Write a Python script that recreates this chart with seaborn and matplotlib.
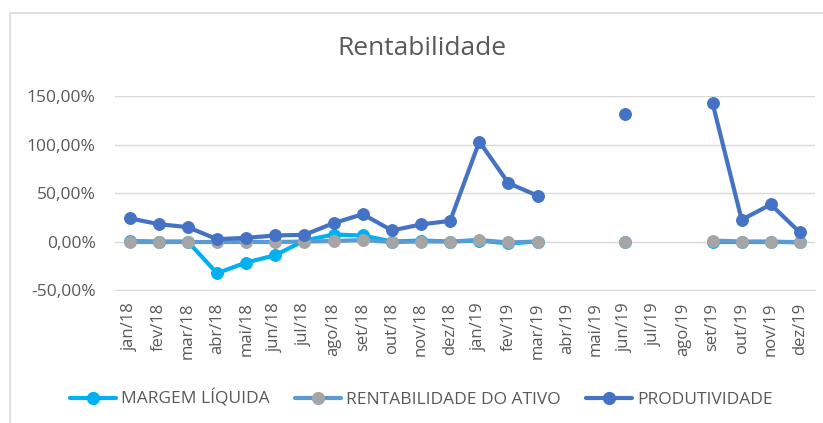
import numpy as np
import pandas as pd
import seaborn as sns
import matplotlib.pyplot as plt
from matplotlib.patches import Rectangle
from matplotlib.ticker import FuncFormatter

# months on the x axis
meses = ["jan/18", "fev/18", "mar/18", "abr/18", "mai/18", "jun/18", "jul/18", "ago/18",
         "set/18", "out/18", "nov/18", "dez/18", "jan/19", "fev/19", "mar/19", "abr/19",
         "mai/19", "jun/19", "jul/19", "ago/19", "set/19", "out/19", "nov/19", "dez/19"]

nan = np.nan
margem_liquida = [0.5, 0, 0, -32.7, -21.7, -14.1, 1, 7.2, 6.2, 0, 1, 0,
                  1, -2, 0, nan, nan, 0, nan, nan, 0, 0, 0, 0]
rentabilidade_ativo = [-0.5, -0.5, -0.5, -0.5, -0.5, -0.5, 0, 0.5, 1.5, -0.5, 0, 0,
                       1.5, -1, 0, nan, nan, 0, nan, nan, 1, 0, 0, -1]
produtividade = [24, 17.9, 14.8, 2.4, 3.8, 6.2, 6.9, 18.9, 28.2, 11.4, 17.6, 21.3,
                 103, 60.2, 47.2, nan, nan, 131.9, nan, nan, 142.9, 22.4, 38.2, 9.3]

series = [
    ("MARGEM LÍQUIDA", margem_liquida, "#00B0F0", "#00B0F0"),
    ("RENTABILIDADE DO ATIVO", rentabilidade_ativo, "#5B9BD5", "#A5A5A5"),
    ("PRODUTIVIDADE", produtividade, "#4472C4", "#4472C4"),
]

sns.set_style("white")
plt.rcParams["font.family"] = ["Open Sans", "DejaVu Sans"]
txt = "#595959"

fig = plt.figure(figsize=(8.23, 4.23), dpi=100)
ax = fig.add_axes([0.1397, 0.3144, 0.850, 0.4586])

x = np.arange(len(meses))
for nome, vals, cor, cor_mk in series:
    df = pd.DataFrame({"x": x, "y": vals})
    # break the line where data is missing
    grupo = df["y"].isna().cumsum()
    df = df.dropna()
    df["seg"] = grupo[df.index]
    for _, seg in df.groupby("seg"):
        sns.lineplot(data=seg, x="x", y="y", ax=ax, color=cor, linewidth=3,
                     marker="o", markersize=8.5, markerfacecolor=cor_mk,
                     markeredgecolor=cor_mk, legend=False)
    ax.plot([], [], color=cor, linewidth=3, marker="o", markersize=8.5,
            markerfacecolor=cor_mk, markeredgecolor=cor_mk, label=nome)

ax.set_xlim(-0.5, len(meses) - 0.5)
ax.set_ylim(-50, 150)
ax.set_yticks([-50, 0, 50, 100, 150])
ax.yaxis.set_major_formatter(FuncFormatter(lambda v, p: f"{v:.2f}%".replace(".", ",")))
ax.set_xticks(x)
ax.set_xticklabels(meses, rotation=90)
ax.set_xticks(np.arange(-0.5, len(meses)), minor=True)
ax.tick_params(axis="x", which="major", length=0, pad=9, labelsize=12, labelcolor=txt)
ax.tick_params(axis="x", which="minor", length=7, color="#D9D9D9", direction="out")
ax.tick_params(axis="y", length=0, labelsize=12.5, labelcolor=txt, pad=14)
ax.set_xlabel("")
ax.set_ylabel("")
ax.grid(axis="y", color="#D9D9D9", linewidth=1)
ax.set_axisbelow(True)
for s in ["top", "right", "left"]:
    ax.spines[s].set_visible(False)
ax.spines["bottom"].set_color("#D9D9D9")

fig.text(0.513, 0.885, "Rentabilidade", ha="center", va="center", fontsize=19, color=txt)

fig.legend(loc="center", bbox_to_anchor=(0.512, 0.057), ncol=3, frameon=False,
           fontsize=12.5, labelcolor=txt, handlelength=2.65, columnspacing=1.45,
           handletextpad=0.3)

fig.add_artist(Rectangle((10 / 823, -0.1), 1.2, 1 - 13 / 423 + 0.1,
                         transform=fig.transFigure, fill=False,
                         edgecolor="#D9D9D9", linewidth=1.2))

fig.savefig("out.png", dpi=100)
